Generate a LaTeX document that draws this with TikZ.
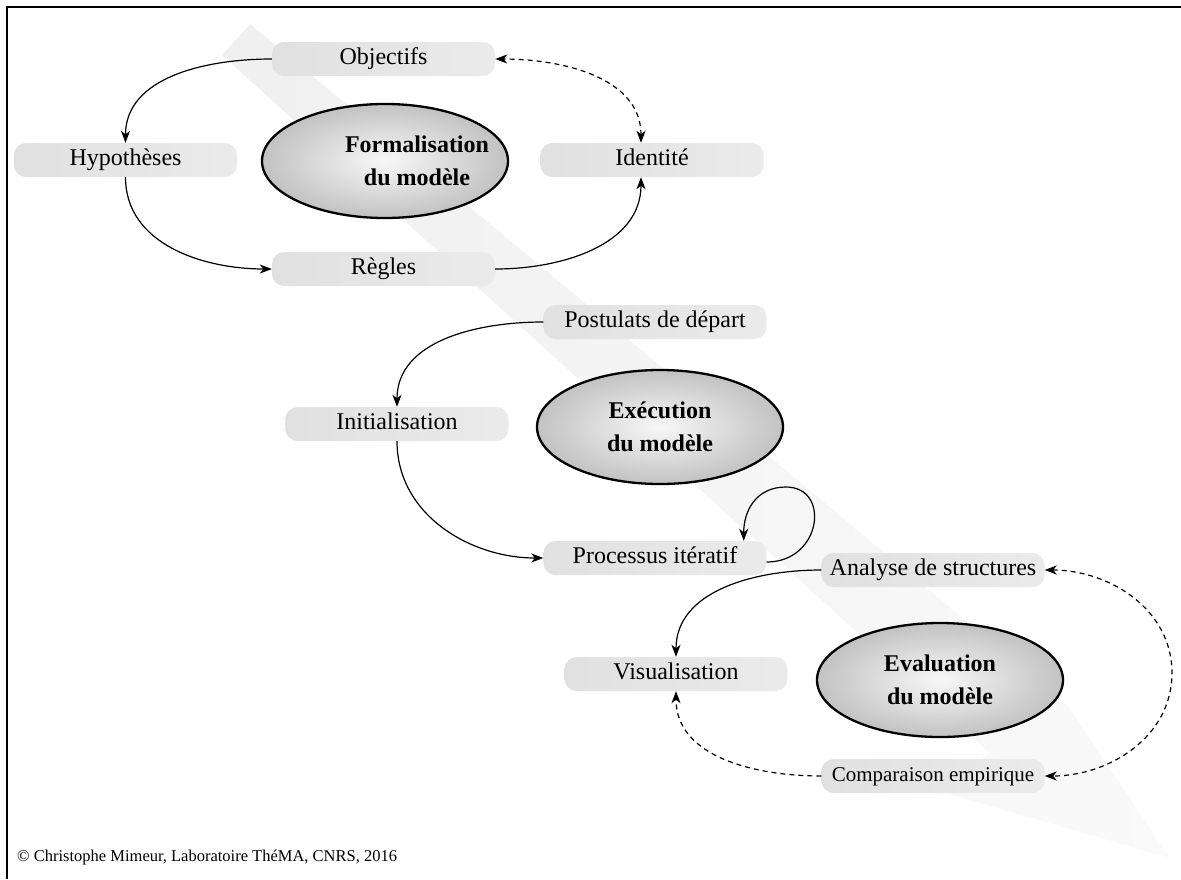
\documentclass[tikz,border=0pt]{standalone}
\usepackage{fontspec}
\setmainfont{Liberation Serif}
\usetikzlibrary{arrows.meta,shapes.geometric}
\begin{document}
\begin{tikzpicture}[x=1pt,y=1pt,
  pill/.style={rounded corners=12pt, minimum width=223pt, minimum height=34pt,
    left color=black!12, middle color=black!4, right color=black!8,
    font=\fontsize{24}{28}\selectfont, inner sep=0pt, text height=16pt, text depth=5pt},
  oval/.style={ellipse, draw, line width=2.3pt, minimum width=246pt, minimum height=114pt,
    inner color=black!3, outer color=black!24, inner sep=0pt,
    font=\bfseries\fontsize{24}{33}\selectfont, align=center},
  ovaltext/.style={font=\bfseries\fontsize{24}{33}\selectfont, align=center, inner sep=0pt},
  tip/.style={-{Stealth[length=12pt,width=9pt,inset=3.5pt]}},
  conn/.style={line width=1.2pt, tip},
  dconn/.style={conn, dash pattern=on 5pt off 4pt},
  ddconn/.style={line width=1.2pt, dash pattern=on 5pt off 4pt,
    {Stealth[length=12pt,width=9pt,inset=3.5pt]}-{Stealth[length=12pt,width=9pt,inset=3.5pt]}}
]
\useasboundingbox (0,0) rectangle (1181,-879);
% frame
\draw[line width=2pt] (7,-879) -- (7,-7) -- (1181,-7);
% big background arrow
\shade[left color=black!6, right color=black!2]
  (250,-24) -- (1067,-705) -- (1170,-858) -- (935,-790) -- (990,-753) -- (222,-55) -- cycle;

% section 1
\node[pill] (obj) at (383.5,-59) {Objectifs};
\node[pill] (hyp) at (125.5,-160) {Hypothèses};
\node[pill] (iden) at (652,-160) {Identité};
\node[pill] (reg) at (383.5,-269) {Règles};
\node[oval] (form) at (385,-161) {};
\node[ovaltext] (formtxt) at (417,-161) {Formalisation\\du modèle};

% section 2
\node[pill] (post) at (655,-322) {Postulats de départ};
\node[pill] (init) at (397,-424) {Initialisation};
\node[pill] (proc) at (655,-558) {Processus itératif};
\node[oval] (exec) at (660,-427) {Exécution\\du modèle};
\coordinate (looptop) at (786,-487);

% section 3
\node[pill] (ana) at (933,-570) {Analyse de structures};
\node[pill] (vis) at (676,-674) {Visualisation};
\node[pill, font=\fontsize{21}{25}\selectfont] (comp) at (933,-776) {Comparaison empirique};
\node[oval] (eval) at (940,-680) {Evaluation\\du modèle};
\coordinate (rightmid) at (1172,-673);

% copyright
\node[anchor=west, inner sep=0pt, font=\fontsize{16.5}{19}\selectfont] (copy) at (17,-858)
  {© Christophe Mimeur, Laboratoire ThéMA, CNRS, 2016};

% connectors section 1
\draw[conn] (obj.west) to[out=180,in=90] (hyp.north);
\draw[conn] (hyp.south) to[out=-90,in=180] (reg.west);
\draw[conn] (reg.east) to[out=0,in=-90] ([xshift=-11pt]iden.south);
\draw[ddconn] ([xshift=-11pt]iden.north) to[out=90,in=0] (obj.east);

% connectors section 2
\draw[conn] (post.west) to[out=180,in=90] (init.north);
\draw[conn] (init.south) to[out=-90,in=180] (proc.west);
\draw[conn] ([yshift=-4pt]proc.east) .. controls +(55,0) and +(45,0) .. (looptop)
  .. controls +(-30,0) and +(0,30) .. ([xshift=-23pt]proc.north east);

% connectors section 3
\draw[conn] (ana.west) to[out=180,in=90] (vis.north);
\draw[dconn] (comp.west) to[out=180,in=-90] (vis.south);
\draw[ddconn] (ana.east) to[out=0,in=90] (rightmid) to[out=-90,in=0] (comp.east);
\end{tikzpicture}
\end{document}
